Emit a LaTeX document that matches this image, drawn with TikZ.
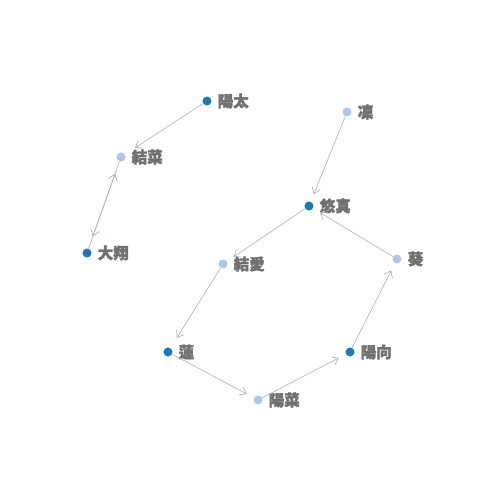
\documentclass[tikz,border=0pt]{standalone}
\usepackage{fontspec}
\newfontfamily\cjk{Noto Sans CJK JP}[BoldFeatures={FakeBold=2}]
\usetikzlibrary{arrows.meta}
\definecolor{darkb}{HTML}{1F77B4}
\definecolor{lightb}{HTML}{AEC7E8}
\definecolor{linkc}{HTML}{B2B8C6}
\definecolor{tipc}{HTML}{9FB4D6}
\definecolor{txt}{HTML}{707070}
\tikzset{
  dot/.style={circle,inner sep=0pt,minimum size=9pt},
  darkdot/.style={dot,fill=darkb},
  lightdot/.style={dot,fill=lightb},
  lab/.style={font=\cjk\bfseries\fontsize{15.5}{15.5}\selectfont,text=txt,anchor=west,xshift=2.5pt},
  link/.style={draw=linkc,line width=0.7pt,-{Straight Barb[length=6pt,width=9pt,line width=0.7pt,color=tipc]},shorten >=8pt},
}
\begin{document}
\begin{tikzpicture}[x=1pt,y=-1pt]
\useasboundingbox (0,0) rectangle (494,492);
\node[darkdot] (youta) at (207,101) {};
\node[lightdot] (yuina) at (121,157) {};
\node[darkdot] (hiroto) at (87,253) {};
\node[lightdot] (rin) at (347,112) {};
\node[darkdot] (yuuma) at (309,206) {};
\node[lightdot] (yua) at (223,264) {};
\node[lightdot] (aoi) at (397,259) {};
\node[darkdot] (ren) at (168,352) {};
\node[darkdot] (hinata) at (350,352) {};
\node[lightdot] (hina) at (258,400) {};
\node[lab] at (youta.east) {陽太};
\node[lab] at (yuina.east) {結菜};
\node[lab] at (hiroto.east) {大翔};
\node[lab] at (rin.east) {凜};
\node[lab] at (yuuma.east) {悠真};
\node[lab] at (yua.east) {結愛};
\node[lab] at (aoi.east) {葵};
\node[lab] at (ren.east) {蓮};
\node[lab] at (hinata.east) {陽向};
\node[lab] at (hina.east) {陽菜};
\draw[link,shorten >=12pt] (youta) -- (yuina);
\draw[link,shorten >=13pt] (hiroto) -- (yuina);
\draw[link,shorten >=13pt] (yuina) -- (hiroto);
\draw[link] (rin) -- (yuuma);
\draw[link] (aoi) -- (yuuma);
\draw[link] (yuuma) -- (yua);
\draw[link,shorten >=12pt] (yua) -- (ren);
\draw[link] (ren) -- (hina);
\draw[link] (hina) -- (hinata);
\draw[link] (hinata) -- (aoi);
\end{tikzpicture}
\end{document}
